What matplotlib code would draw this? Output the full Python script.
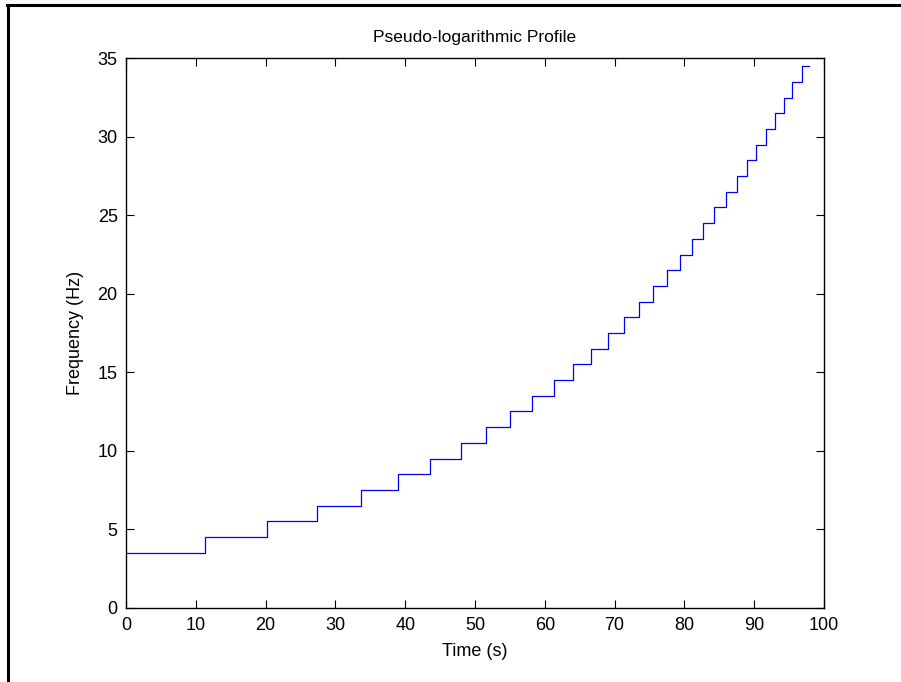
import numpy as np
import matplotlib
matplotlib.use('Agg')
import matplotlib.pyplot as plt
from matplotlib.lines import Line2D

# Step change times (s) and the frequency level held from each time on (Hz)
step_times = [0, 11.3, 20.2, 27.4, 33.6, 38.9, 43.6, 48.0, 51.6, 55.0, 58.2,
              61.3, 64.0, 66.6, 69.1, 71.3, 73.5, 75.5, 77.5, 79.3, 81.1,
              82.7, 84.3, 86.0, 87.5, 88.9, 90.3, 91.7, 93.0, 94.2, 95.4, 96.8]
step_freqs = [3.5, 4.5, 5.5, 6.5, 7.5, 8.5, 9.5, 10.5, 11.5, 12.5, 13.5,
              14.5, 15.5, 16.5, 17.5, 18.5, 19.5, 20.5, 21.5, 22.5, 23.5,
              24.5, 25.5, 26.5, 27.5, 28.5, 29.5, 30.5, 31.5, 32.5, 33.5, 34.5]
end_time = 97.9

x_ticks = [0, 10, 20, 30, 40, 50, 60, 70, 80, 90, 100]
y_ticks = [0, 5, 10, 15, 20, 25, 30, 35]

plt.rcParams['font.family'] = ['Liberation Sans', 'DejaVu Sans']

fig = plt.figure(figsize=(9.01, 6.82), dpi=100)
ax = fig.add_axes([126 / 901, 1 - 607.7 / 682, (824 - 126) / 901, (607.7 - 58.3) / 682])

t = np.append(step_times, end_time)
f = np.append(step_freqs, step_freqs[-1])
ax.step(t, f, where='post', color='#0000ff', linewidth=0.9)

ax.set_xlim(0, 100)
ax.set_ylim(0, 35)
ax.set_xticks(x_ticks)
ax.set_yticks(y_ticks)
ax.tick_params(direction='in', length=6, width=0.8, top=True, right=True,
               labelsize=13)
ax.tick_params(axis='x', pad=7)
ax.tick_params(axis='y', pad=6)
for s in ax.spines.values():
    s.set_linewidth(1.0)

ax.set_title('Pseudo-logarithmic Profile', fontsize=12.5, pad=12)
ax.set_xlabel('Time (s)', fontsize=13, labelpad=6)
ax.set_ylabel('Frequency (Hz)', fontsize=13, labelpad=10)

# outer frame on the left and top edges
fig.add_artist(Line2D([7.5 / 901, 7.5 / 901], [0, 1 - 5 / 682], color='black',
                      linewidth=2.2, transform=fig.transFigure))
fig.add_artist(Line2D([6.5 / 901, 1], [1 - 5 / 682, 1 - 5 / 682], color='black',
                      linewidth=2.2, transform=fig.transFigure))

fig.savefig('out.png', dpi=100)
